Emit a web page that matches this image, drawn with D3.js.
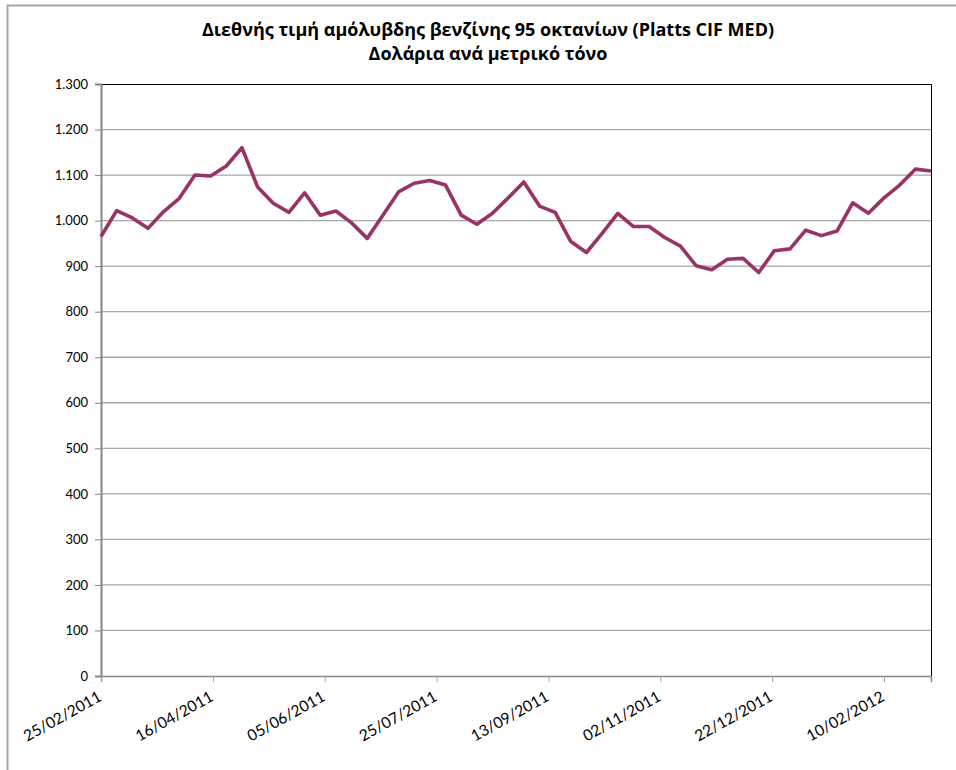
<!DOCTYPE html>
<html>
<head>
<meta charset="utf-8">
<script src="https://cdn.jsdelivr.net/npm/d3@7"></script>
<style>
  body { margin: 0; background: #fff; }
  svg { display: block; font-family: Lato, "Open Sans", sans-serif; }
</style>
</head>
<body>
<svg id="chart" width="956" height="770"></svg>
<script>
// weekly observations (Friday), dd/mm/yyyy
var dates = [
  '25/02/2011','04/03/2011','11/03/2011','18/03/2011','25/03/2011','01/04/2011','08/04/2011',
  '15/04/2011','22/04/2011','29/04/2011','06/05/2011','13/05/2011','20/05/2011','27/05/2011',
  '03/06/2011','10/06/2011','17/06/2011','24/06/2011','01/07/2011','08/07/2011','15/07/2011',
  '22/07/2011','29/07/2011','05/08/2011','12/08/2011','19/08/2011','26/08/2011','02/09/2011',
  '09/09/2011','16/09/2011','23/09/2011','30/09/2011','07/10/2011','14/10/2011','21/10/2011',
  '28/10/2011','04/11/2011','11/11/2011','18/11/2011','25/11/2011','02/12/2011','09/12/2011',
  '16/12/2011','23/12/2011','30/12/2011','06/01/2012','13/01/2012','20/01/2012','27/01/2012',
  '03/02/2012','10/02/2012','17/02/2012','24/02/2012','02/03/2012'
];

// USD per metric tonne
var prices = [
  965, 1022, 1006, 983, 1020, 1049, 1100, 1098, 1120, 1160,
  1074, 1038, 1018, 1061, 1012, 1021, 995, 961, 1012, 1063,
  1082, 1088, 1078, 1012, 992, 1016, 1050, 1085, 1032, 1018,
  954, 930, 972, 1016, 987, 987, 963, 944, 901, 892,
  915, 917, 886, 934, 938, 979, 967, 977, 1039, 1016,
  1050, 1078, 1113, 1109
];

var tickLabels = ['25/02/2011','16/04/2011','05/06/2011','25/07/2011',
                  '13/09/2011','02/11/2011','22/12/2011','10/02/2012'];
var yTicks = [0, 100, 200, 300, 400, 500, 600, 700, 800, 900, 1000, 1100, 1200, 1300];

var titleLines = ['Διεθνής τιμή αμόλυβδης βενζίνης 95 οκτανίων (Platts CIF MED)',
                  'Δολάρια ανά μετρικό τόνο'];

var parseDate = d3.utcParse('%d/%m/%Y'),
    fmtDate = d3.utcFormat('%d/%m/%Y'),
    fmtNum = d3.formatLocale({decimal: ',', thousands: '.', grouping: [3], currency: ['', '']}).format(',');

var data = dates.map(function(d, i) { return {date: parseDate(d), value: prices[i]}; });

var svg = d3.select('#chart');
var plotL = 101, plotR = 931, plotT = 84, plotB = 676;

// outer chart border
svg.append('rect')
  .attr('x', 7.5).attr('y', 5.5)
  .attr('width', 1000).attr('height', 1000)
  .attr('fill', 'none').attr('stroke', '#a6a6a6').attr('stroke-width', 2);

svg.selectAll('text.title')
  .data(titleLines)
  .enter().append('text')
    .attr('class', 'title')
    .attr('x', 488)
    .attr('y', function(d, i) { return 36 + i * 24; })
    .attr('text-anchor', 'middle')
    .attr('font-family', '"Open Sans", sans-serif')
    .attr('font-size', 18)
    .attr('font-weight', 'bold')
    .attr('fill', '#000')
    .text(function(d) { return d; });

var x = d3.scaleUtc()
  .domain(d3.extent(data, function(d) { return d.date; }))
  .range([plotL, plotR]);

var y = d3.scaleLinear()
  .domain([0, 1300])
  .range([plotB, plotT]);

// gridlines
svg.append('g')
  .selectAll('line')
  .data(yTicks.slice(1, -1))
  .enter().append('line')
    .attr('x1', plotL).attr('x2', plotR)
    .attr('y1', function(d) { return y(d); })
    .attr('y2', function(d) { return y(d); })
    .attr('stroke', '#a6a6a6').attr('stroke-width', 1.3);

// plot area frame: top and right are dark
svg.append('path')
  .attr('d', 'M' + plotL + ',' + (plotT + 0.5) + 'H' + (plotR + 0.5) + 'V' + plotB)
  .attr('fill', 'none').attr('stroke', '#000').attr('stroke-width', 1);

var yAxis = svg.append('g')
  .attr('transform', 'translate(' + plotL + ',0)')
  .call(d3.axisLeft(y).tickValues(yTicks).tickSize(6).tickPadding(7).tickFormat(fmtNum));
yAxis.select('.domain').attr('stroke', '#868686').attr('stroke-width', 2);
yAxis.selectAll('.tick line').attr('stroke', '#868686');
yAxis.selectAll('.tick text').attr('font-size', 13).attr('fill', '#000')
  .attr('font-family', 'Lato, sans-serif');

var xAxis = svg.append('g')
  .attr('transform', 'translate(0,' + plotB + ')')
  .call(d3.axisBottom(x).tickValues(tickLabels.map(parseDate)).tickSize(6).tickFormat(fmtDate));
xAxis.select('.domain').attr('stroke', '#868686').attr('stroke-width', 1.5);
xAxis.selectAll('.tick line').attr('stroke', '#a6a6a6');
xAxis.selectAll('.tick text')
  .attr('font-size', 15.5).attr('fill', '#000')
  .attr('font-family', 'Lato, sans-serif')
  .attr('text-anchor', 'end')
  .attr('dy', null)
  .attr('y', 0)
  .attr('transform', 'translate(1,24) rotate(-29)');

var line = d3.line()
  .x(function(d) { return x(d.date); })
  .y(function(d) { return y(d.value); });

svg.append('path')
  .datum(data)
  .attr('d', line)
  .attr('fill', 'none')
  .attr('stroke', '#993366')
  .attr('stroke-width', 3.6)
  .attr('stroke-linejoin', 'round');
</script>
</body>
</html>
